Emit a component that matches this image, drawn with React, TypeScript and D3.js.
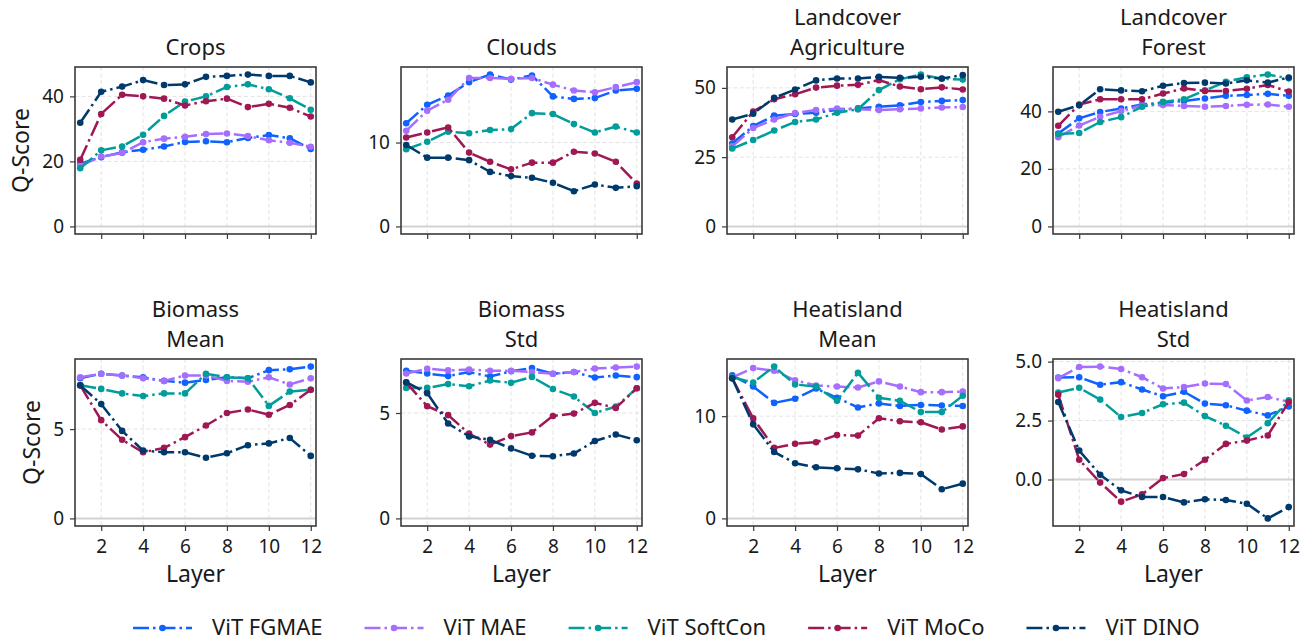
import React, { useEffect, useRef } from "react";
import * as d3 from "d3";

const layers = [1, 2, 3, 4, 5, 6, 7, 8, 9, 10, 11, 12];
const layerTicks = [2, 4, 6, 8, 10, 12];
const models = ["ViT FGMAE", "ViT MAE", "ViT SoftCon", "ViT MoCo", "ViT DINO"];

// each task: one row per model, same order as `models`
const crops = [
  [19.3, 21.3, 22.8, 23.6, 24.6, 26.0, 26.2, 25.9, 27.2, 28.1, 27.1, 23.8],
  [18.7, 21.5, 22.6, 25.9, 27.0, 27.6, 28.4, 28.6, 27.8, 26.5, 25.7, 24.5],
  [17.9, 23.4, 24.6, 28.2, 34.0, 38.4, 40.0, 42.9, 43.7, 42.2, 39.4, 35.9],
  [20.5, 34.6, 40.5, 40.0, 39.3, 37.2, 38.5, 39.3, 36.7, 37.7, 36.5, 33.8],
  [31.9, 41.4, 43.0, 45.0, 43.5, 43.7, 46.0, 46.3, 46.7, 46.3, 46.3, 44.3],
];
const clouds = [
  [12.3, 14.5, 15.6, 17.2, 18.1, 17.5, 18.0, 15.5, 15.2, 15.3, 16.2, 16.4],
  [11.4, 13.8, 15.1, 17.7, 17.7, 17.6, 17.7, 16.9, 16.2, 16.0, 16.6, 17.2],
  [9.2, 10.1, 11.3, 11.1, 11.5, 11.6, 13.5, 13.4, 12.2, 11.2, 11.9, 11.2],
  [10.6, 11.2, 11.8, 8.8, 7.7, 6.8, 7.6, 7.6, 8.9, 8.7, 7.7, 5.1],
  [9.7, 8.2, 8.2, 7.9, 6.5, 6.0, 5.8, 5.2, 4.2, 5.0, 4.6, 4.8],
];
const agriculture = [
  [29.9, 36.2, 40.0, 40.6, 41.0, 42.1, 42.6, 43.2, 43.7, 44.9, 45.3, 45.6],
  [28.9, 35.5, 38.6, 40.9, 42.0, 42.5, 42.3, 42.0, 42.3, 42.6, 42.9, 43.1],
  [28.1, 31.2, 34.6, 37.7, 38.6, 41.0, 42.3, 49.2, 53.1, 54.8, 53.3, 53.0],
  [32.2, 41.5, 45.9, 47.7, 50.1, 50.8, 51.1, 52.8, 50.5, 49.5, 50.2, 49.4],
  [38.6, 40.7, 46.4, 49.4, 52.7, 53.4, 53.4, 54.0, 53.6, 54.0, 53.4, 54.6],
];
const forest = [
  [32.3, 37.6, 39.8, 41.0, 42.4, 43.0, 43.6, 44.5, 45.4, 45.7, 46.1, 45.4],
  [31.0, 35.1, 38.1, 40.1, 42.1, 42.2, 41.9, 41.6, 41.9, 42.3, 42.4, 41.6],
  [32.1, 32.5, 36.3, 38.0, 41.6, 43.3, 44.2, 47.3, 50.3, 51.9, 52.8, 51.5],
  [35.0, 42.4, 44.2, 44.2, 44.2, 46.2, 48.0, 47.1, 47.1, 47.9, 49.2, 46.9],
  [39.9, 42.1, 47.7, 47.3, 47.0, 48.9, 49.9, 50.0, 49.7, 50.8, 50.0, 51.8],
];
const biomassMean = [
  [7.85, 8.1, 8.0, 7.9, 7.7, 7.6, 7.75, 7.9, 7.85, 8.3, 8.35, 8.5],
  [7.9, 8.1, 8.0, 7.85, 7.7, 8.0, 8.0, 7.7, 7.65, 7.9, 7.5, 7.85],
  [7.45, 7.25, 7.0, 6.85, 7.0, 7.0, 8.1, 7.9, 7.85, 6.3, 7.1, 7.2],
  [7.45, 5.5, 4.4, 3.7, 3.95, 4.55, 5.2, 5.9, 6.1, 5.8, 6.35, 7.2],
  [7.45, 6.4, 4.9, 3.8, 3.7, 3.7, 3.4, 3.65, 4.1, 4.2, 4.5, 3.5],
];
const biomassStd = [
  [7.0, 6.87, 6.75, 6.94, 6.73, 6.98, 7.13, 6.86, 6.94, 6.68, 6.78, 6.7],
  [6.87, 7.1, 7.02, 7.06, 7.0, 7.0, 6.94, 6.86, 6.94, 7.11, 7.16, 7.2],
  [6.19, 6.19, 6.37, 6.27, 6.54, 6.43, 6.71, 6.14, 5.78, 5.0, 5.3, 6.17],
  [6.44, 5.32, 4.9, 4.02, 3.5, 3.9, 4.08, 4.86, 4.97, 5.48, 5.24, 6.17],
  [6.46, 5.94, 4.5, 3.89, 3.73, 3.32, 2.97, 2.95, 3.08, 3.67, 3.98, 3.71],
];
const heatMean = [
  [14.0, 12.9, 11.3, 11.7, 12.7, 11.8, 10.85, 11.25, 11.0, 11.1, 11.05, 11.0],
  [13.8, 14.7, 14.45, 13.5, 13.0, 12.9, 12.8, 13.4, 12.9, 12.35, 12.35, 12.4],
  [13.8, 13.3, 14.85, 13.1, 12.9, 11.5, 14.25, 11.8, 11.5, 10.4, 10.4, 12.0],
  [13.7, 9.8, 6.9, 7.3, 7.45, 8.15, 8.1, 9.8, 9.5, 9.4, 8.7, 9.0],
  [13.7, 9.2, 6.5, 5.4, 5.0, 4.9, 4.8, 4.4, 4.45, 4.35, 2.85, 3.4],
];
const heatStd = [
  [4.33, 4.34, 4.02, 4.13, 3.82, 3.53, 3.72, 3.22, 3.15, 2.92, 2.72, 3.1],
  [4.3, 4.77, 4.79, 4.69, 4.34, 3.86, 3.92, 4.07, 4.05, 3.35, 3.5, 3.3],
  [3.69, 3.89, 3.39, 2.65, 2.82, 3.19, 3.26, 2.69, 2.28, 1.78, 2.39, 3.36],
  [3.6, 0.84, -0.13, -0.94, -0.63, 0.06, 0.23, 0.84, 1.51, 1.65, 1.87, 3.29],
  [3.29, 1.23, 0.2, -0.46, -0.74, -0.74, -0.97, -0.84, -0.87, -1.03, -1.65, -1.17],
];

const titles = [
  ["Crops"], ["Clouds"], ["Landcover", "Agriculture"], ["Landcover", "Forest"],
  ["Biomass", "Mean"], ["Biomass", "Std"], ["Heatisland", "Mean"], ["Heatisland", "Std"],
];
const yTicks = [
  [0, 20, 40], [0, 10], [0, 25, 50], [0, 20, 40],
  [0, 5], [0, 5], [0, 10], [0, 2.5, 5],
];

const colors = ["#0f62fe", "#a56eff", "#009d9a", "#9f1853", "#003a6d"];

export default function App() {
  const ref = useRef<SVGSVGElement>(null);

  useEffect(() => {
    const svg = d3.select(ref.current);
    svg.selectAll("*").remove();
    const font = "'Noto Sans', 'DejaVu Sans', sans-serif";
    const dash = "16,4,2.5,4";
    const tasks = [crops, clouds, agriculture, forest, biomassMean, biomassStd, heatMean, heatStd];

    tasks.forEach((values, i) => {
      const col = i % 4;
      const row = Math.floor(i / 4);
      const x0 = 75 + col * 326;
      const y0 = 67 + row * 292;
      const w = 241;
      const h = 167;

      const all = values.flat();
      const lo = Math.min(0, d3.min(all) as number);
      const hi = d3.max(all) as number;
      const pad = (hi - lo) * 0.05;

      const x = d3.scaleLinear().domain([0.75, 12.25]).range([x0, x0 + w]);
      const y = d3.scaleLinear().domain([lo - pad, hi + pad]).range([y0 + h, y0]);

      const g = svg.append("g");

      // grid
      g.selectAll(".gx").data(layerTicks).join("line")
        .attr("x1", d => x(d)).attr("x2", d => x(d))
        .attr("y1", y0).attr("y2", y0 + h)
        .attr("stroke", "#e3e3e3").attr("stroke-width", 1).attr("stroke-dasharray", "4,2.5");
      g.selectAll(".gy").data(yTicks[i].filter(t => t !== 0)).join("line")
        .attr("x1", x0).attr("x2", x0 + w)
        .attr("y1", d => y(d)).attr("y2", d => y(d))
        .attr("stroke", "#e3e3e3").attr("stroke-width", 1).attr("stroke-dasharray", "4,2.5");
      g.append("line")
        .attr("x1", x0).attr("x2", x0 + w)
        .attr("y1", y(0)).attr("y2", y(0))
        .attr("stroke", "#d2d2d2").attr("stroke-width", 2);

      const line = d3.line<number>().x((d, k) => x(layers[k])).y(d => y(d));

      values.forEach((series, m) => {
        g.append("path")
          .datum(series)
          .attr("d", line)
          .attr("fill", "none")
          .attr("stroke", colors[m])
          .attr("stroke-width", 2.5)
          .attr("stroke-dasharray", dash);
        g.selectAll(".pt" + m).data(series).join("circle")
          .attr("cx", (d, k) => x(layers[k]))
          .attr("cy", d => y(d))
          .attr("r", 3.3)
          .attr("fill", colors[m]);
      });

      // frame
      g.append("rect")
        .attr("x", x0).attr("y", y0).attr("width", w).attr("height", h)
        .attr("fill", "none").attr("stroke", "#3a3a3a").attr("stroke-width", 1.6);

      const fmt = yTicks[i].some(t => !Number.isInteger(t)) ? d3.format(".1f") : d3.format("d");
      const ay = g.append("g")
        .attr("transform", `translate(${x0},0)`)
        .call(d3.axisLeft(y).tickValues(yTicks[i]).tickFormat(fmt as any).tickSize(5).tickPadding(6));
      const ax = g.append("g")
        .attr("transform", `translate(0,${y0 + h})`)
        .call(d3.axisBottom(x).tickValues(layerTicks)
          .tickFormat((d: any) => (row === 1 ? String(d) : ""))
          .tickSize(5).tickPadding(9));
      [ay, ax].forEach(a => {
        a.select(".domain").remove();
        a.selectAll("line").attr("stroke", "#3a3a3a").attr("stroke-width", 1.2);
        a.selectAll("text").attr("font-family", font).attr("font-size", 19).attr("fill", "#1a1a1a");
      });

      // title, one text per line
      const t = titles[i];
      t.forEach((s, k) => {
        g.append("text")
          .attr("x", x0 + w / 2)
          .attr("y", y0 - 12.5 - (t.length - 1 - k) * 30)
          .attr("text-anchor", "middle")
          .attr("font-family", font).attr("font-size", 22).attr("fill", "#1a1a1a")
          .text(s);
      });

      if (row === 1) {
        g.append("text")
          .attr("x", x0 + w / 2).attr("y", y0 + h + 56)
          .attr("text-anchor", "middle")
          .attr("font-family", font).attr("font-size", 23).attr("fill", "#1a1a1a")
          .text("Layer");
      }
      if (col === 0) {
        const bb = (ay.node() as SVGGElement).getBBox();
        const bx = x0 + bb.x - 13;
        g.append("text")
          .attr("transform", `translate(${bx},${y0 + h / 2}) rotate(-90)`)
          .attr("text-anchor", "middle")
          .attr("font-family", font).attr("font-size", 23).attr("fill", "#1a1a1a")
          .text("Q-Score");
      }
    });

    // legend
    const legend = svg.append("g");
    let lx = 133;
    const ly = 628;
    models.forEach((name, m) => {
      legend.append("line")
        .attr("x1", lx).attr("x2", lx + 59).attr("y1", ly).attr("y2", ly)
        .attr("stroke", colors[m]).attr("stroke-width", 2.5).attr("stroke-dasharray", dash);
      legend.append("circle")
        .attr("cx", lx + 29.5).attr("cy", ly).attr("r", 3.3).attr("fill", colors[m]);
      const txt = legend.append("text")
        .attr("x", lx + 79).attr("y", ly + 7)
        .attr("font-family", font).attr("font-size", 22).attr("fill", "#1a1a1a")
        .text(name);
      const tw = (txt.node() as SVGTextElement).getComputedTextLength();
      lx = lx + 79 + tw + 42;
    });
  }, []);

  return (
    <svg
      ref={ref}
      width={1314}
      height={642}
      style={{ position: "absolute", left: 0, top: 0, background: "#fff" }}
    />
  );
}
